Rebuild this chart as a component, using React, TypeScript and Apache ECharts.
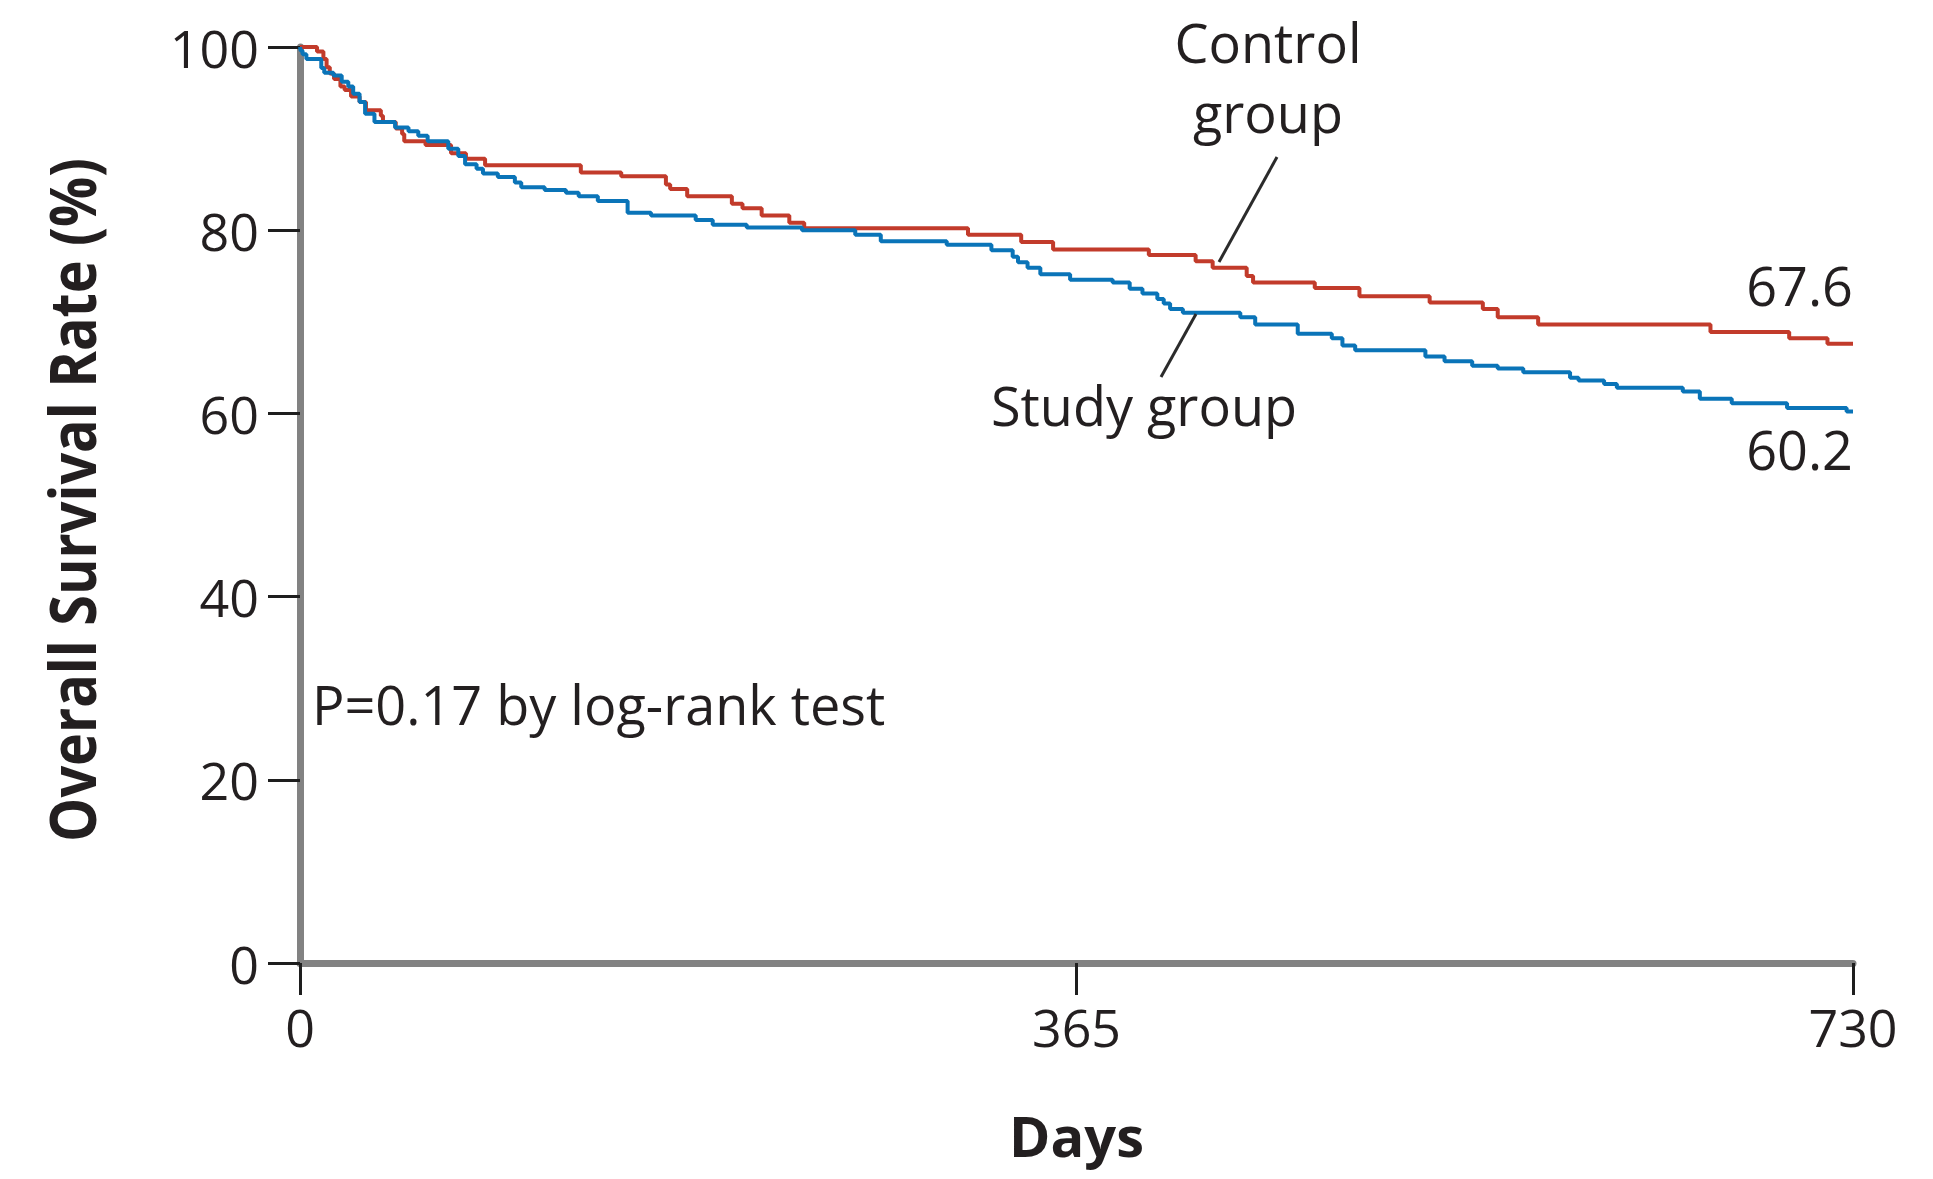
import React, { useEffect, useRef } from "react";
import * as echarts from "echarts";

// Kaplan-Meier step points: each survival value holds from its day until the next day.
const controlDays = [0, 8, 11, 12.5, 14, 16, 19, 21, 24, 28, 31, 38, 39, 45, 48, 49, 59, 71, 78, 87, 132, 151, 172, 174, 182, 203, 208, 217, 230, 237, 314, 339, 354, 399, 421, 429, 445, 448, 477, 498, 531, 556, 563, 582, 663, 700, 718, 730];
const controlSurvival = [100, 99.5, 98.7, 97.8, 97.1, 96.5, 95.7, 95.3, 94.6, 94.0, 93.1, 92.5, 91.8, 91.1, 90.5, 89.7, 89.3, 88.4, 87.8, 87.1, 86.3, 85.9, 85.0, 84.5, 83.7, 82.9, 82.4, 81.6, 80.8, 80.2, 79.5, 78.7, 77.9, 77.3, 76.6, 75.9, 75.0, 74.3, 73.7, 72.8, 72.1, 71.4, 70.5, 69.7, 68.9, 68.2, 67.6, 67.6];

const studyDays = [0, 0.3, 1.2, 3, 10, 11.4, 15.7, 19.6, 22.7, 25, 28, 30.6, 35, 44.7, 51, 55.6, 60, 69.7, 74.4, 77.6, 83, 86, 93, 101, 104, 115, 125, 131, 140, 154, 165, 186, 194, 210, 236, 261, 273, 304, 325, 335, 337.5, 342, 348, 362, 382, 390, 396, 403, 406, 409, 415, 442, 449, 469, 485, 490, 496, 529, 538, 551, 563, 575, 597, 601, 613, 619, 650, 658, 673, 699, 727, 730];
const studySurvival = [100, 99.6, 99.2, 98.7, 97.7, 97.2, 96.9, 96.2, 95.7, 94.9, 94.0, 92.7, 91.8, 91.2, 90.8, 90.3, 89.7, 88.9, 88.1, 87.2, 86.7, 86.2, 85.8, 85.2, 84.7, 84.4, 84.1, 83.7, 83.2, 81.9, 81.6, 81.1, 80.6, 80.3, 80.0, 79.5, 78.8, 78.4, 77.8, 77.1, 76.5, 75.9, 75.2, 74.6, 74.3, 73.6, 73.1, 72.5, 72.0, 71.4, 71.0, 70.5, 69.7, 68.7, 68.2, 67.4, 66.9, 66.2, 65.7, 65.2, 64.9, 64.5, 63.9, 63.6, 63.2, 62.8, 62.4, 61.6, 61.1, 60.6, 60.2, 60.2];

const dayTicks = { min: 0, max: 730, step: 365 };
const rateTicks = { min: 0, max: 100, step: 20 };

const xTitle = "Days";
const yTitle = "Overall Survival Rate (%)";
const controlLabel = "Control\ngroup";
const studyLabel = "Study group";
const pValueText = "P=0.17 by log-rank test";

const RED = "#c23b2b";
const BLUE = "#0a74b8";
const INK = "#231f20";
const AXIS_GRAY = "#828282";
const FONT = "'Open Sans', 'Noto Sans', sans-serif";

const pairs = (xs: number[], ys: number[]) => xs.map((x, i) => [x, ys[i]]);

export default function App() {
  const ref = useRef<HTMLDivElement>(null);

  useEffect(() => {
    if (!ref.current) return;
    const chart = echarts.init(ref.current, null, { renderer: "svg" });

    const axisLabelStyle = { fontFamily: FONT, fontSize: 52, color: INK };

    chart.setOption({
      animation: false,
      backgroundColor: "#ffffff",
      grid: { left: 300, right: 80, top: 47, bottom: 216, containLabel: false },
      xAxis: {
        type: "value",
        min: dayTicks.min,
        max: dayTicks.max,
        interval: dayTicks.step,
        name: xTitle,
        nameLocation: "middle",
        nameGap: 144,
        nameTextStyle: { fontFamily: FONT, fontSize: 56, fontWeight: "bold", color: INK },
        axisLine: { show: true, onZero: false, lineStyle: { color: AXIS_GRAY, width: 7 } },
        axisTick: { show: true, length: 32, lineStyle: { color: "#1e1e1e", width: 3 } },
        axisLabel: { ...axisLabelStyle, margin: 37 },
        splitLine: { show: false },
      },
      yAxis: {
        type: "value",
        min: rateTicks.min,
        max: rateTicks.max,
        interval: rateTicks.step,
        axisLine: { show: true, onZero: false, lineStyle: { color: AXIS_GRAY, width: 7 } },
        axisTick: { show: true, length: 32, lineStyle: { color: "#1e1e1e", width: 3 } },
        axisLabel: { ...axisLabelStyle, margin: 41 },
        splitLine: { show: false },
      },
      series: [
        {
          name: "Control group",
          type: "line",
          step: "end",
          showSymbol: false,
          data: pairs(controlDays, controlSurvival),
          lineStyle: { color: RED, width: 4 },
          z: 3,
        },
        {
          name: "Study group",
          type: "line",
          step: "end",
          showSymbol: false,
          data: pairs(studyDays, studySurvival),
          lineStyle: { color: BLUE, width: 4 },
          z: 4,
        },
      ],
    });

    // End-of-curve values, positioned from the last data point of each series.
    const lastControl = controlSurvival[controlSurvival.length - 1];
    const lastStudy = studySurvival[studySurvival.length - 1];
    const [cx, cy] = chart.convertToPixel({ gridIndex: 0 }, [controlDays[controlDays.length - 1], lastControl]) as number[];
    const [sx, sy] = chart.convertToPixel({ gridIndex: 0 }, [studyDays[studyDays.length - 1], lastStudy]) as number[];

    const textStyle = (text: string, align: string, extra: Record<string, unknown> = {}) => ({
      text,
      fontFamily: FONT,
      fontSize: 54,
      fill: INK,
      align,
      textAlign: align,
      verticalAlign: "middle",
      textVerticalAlign: "middle",
      ...extra,
    });

    chart.setOption({
      graphic: [
        {
          type: "text",
          x: 71,
          y: 500,
          rotation: Math.PI / 2,
          scaleX: 0.87,
          z: 10,
          style: textStyle(yTitle, "center", { fontSize: 64, fontWeight: "bold" }),
        },
        { type: "text", x: 1268, y: 77, z: 10, style: textStyle(controlLabel, "center", { lineHeight: 70 }) },
        { type: "text", x: 1144, y: 405, z: 10, style: textStyle(studyLabel, "center") },
        { type: "text", x: 312, y: 704, z: 10, style: textStyle(pValueText, "left") },
        { type: "text", x: cx, y: cy - 59, z: 10, style: textStyle(lastControl.toFixed(1), "right") },
        { type: "text", x: sx, y: sy + 37, z: 10, style: textStyle(lastStudy.toFixed(1), "right") },
        {
          type: "line",
          z: 10,
          shape: { x1: 1277, y1: 157, x2: 1219, y2: 262 },
          style: { stroke: "#2b2b2b", lineWidth: 3 },
        },
        {
          type: "line",
          z: 10,
          shape: { x1: 1196, y1: 314, x2: 1161, y2: 377 },
          style: { stroke: "#2b2b2b", lineWidth: 3 },
        },
      ],
    });

    return () => chart.dispose();
  }, []);

  return (
    <div
      ref={ref}
      style={{ position: "fixed", left: 0, top: 0, width: 1933, height: 1179, background: "#ffffff" }}
    />
  );
}
